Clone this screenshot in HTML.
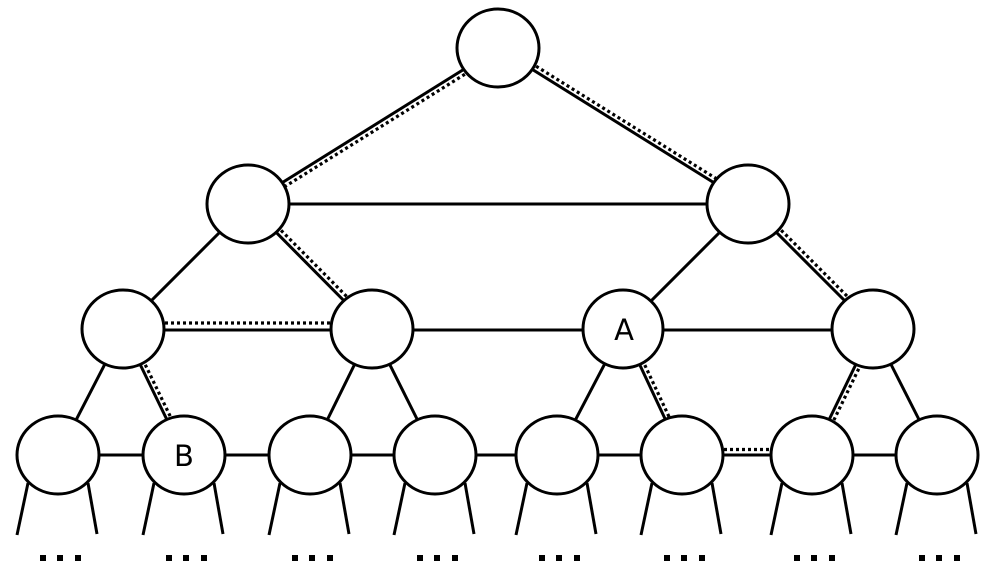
<!DOCTYPE html>
<html><head><style>html,body{margin:0;padding:0;background:#fff;}svg{display:block}</style></head>
<body>
<svg width="992" height="577" viewBox="0 0 992 577" xmlns="http://www.w3.org/2000/svg">
<defs>
<g id="n"><line x1="-30" y1="28" x2="-41" y2="80"/><line x1="30" y1="28" x2="39" y2="79"/><ellipse cx="0" cy="0" rx="41" ry="39"/><g stroke="none" fill="#000"><rect x="-18" y="100" width="6" height="6"/><rect x="-1" y="100" width="6" height="6"/><rect x="17" y="100" width="6" height="6"/></g></g>
</defs>
<g stroke="#000" stroke-width="3" fill="none">
<line x1="498" y1="48" x2="248" y2="204"/>
<line x1="498" y1="48" x2="748" y2="204"/>
<line x1="248" y1="204" x2="748" y2="204"/>
<line x1="248" y1="204" x2="123" y2="329"/>
<line x1="248" y1="204" x2="372" y2="329"/>
<line x1="748" y1="204" x2="623" y2="329"/>
<line x1="748" y1="204" x2="873" y2="329"/>
<line x1="123" y1="330" x2="873" y2="330"/>
<line x1="123" y1="329" x2="58" y2="455"/>
<line x1="123" y1="329" x2="184" y2="455"/>
<line x1="372" y1="329" x2="310" y2="455"/>
<line x1="372" y1="329" x2="435" y2="455"/>
<line x1="623" y1="329" x2="557" y2="455"/>
<line x1="623" y1="329" x2="682" y2="455"/>
<line x1="873" y1="329" x2="812" y2="455"/>
<line x1="873" y1="329" x2="937" y2="455"/>
<line x1="58" y1="455" x2="937" y2="455"/>
</g>
<g stroke="#000" stroke-width="3.2" fill="none" stroke-dasharray="3,3">
<line x1="500.5" y1="52" x2="250.5" y2="208"/>
<line x1="500.5" y1="44" x2="750.5" y2="200"/>
<line x1="251.5" y1="200.5" x2="375.5" y2="325.5"/>
<line x1="751.5" y1="200.5" x2="876.5" y2="325.5"/>
<line x1="123" y1="323" x2="372" y2="323"/>
<line x1="127" y1="327" x2="188" y2="453"/>
<line x1="627" y1="327" x2="686" y2="453"/>
<line x1="877" y1="331" x2="816" y2="457"/>
<line x1="682" y1="449.5" x2="812" y2="449.5"/>
</g>
<g stroke="#000" stroke-width="3" fill="#fff">
<ellipse cx="498" cy="48" rx="41" ry="39"/>
<ellipse cx="248" cy="204" rx="41" ry="39"/>
<ellipse cx="748" cy="204" rx="41" ry="39"/>
<ellipse cx="123" cy="329" rx="41" ry="39"/>
<ellipse cx="372" cy="329" rx="41" ry="39"/>
<ellipse cx="623" cy="329" rx="40" ry="39"/>
<ellipse cx="873" cy="329" rx="41" ry="39"/>
</g>
<g stroke="#000" stroke-width="3" fill="#fff">
<use href="#n" transform="translate(58,455)"/>
<use href="#n" transform="translate(184,455)"/>
<use href="#n" transform="translate(310,455)"/>
<use href="#n" transform="translate(435,455)"/>
<use href="#n" transform="translate(557,455)"/>
<use href="#n" transform="translate(682,455)"/>
<use href="#n" transform="translate(812,455)"/>
<use href="#n" transform="translate(937,455)"/>
</g>
<text x="624" y="340" font-family="DejaVu Sans, Liberation Sans, sans-serif" font-size="29" text-anchor="middle">A</text>
<text x="184" y="466" font-family="DejaVu Sans, Liberation Sans, sans-serif" font-size="29" text-anchor="middle">B</text>
</svg>
</body></html>
